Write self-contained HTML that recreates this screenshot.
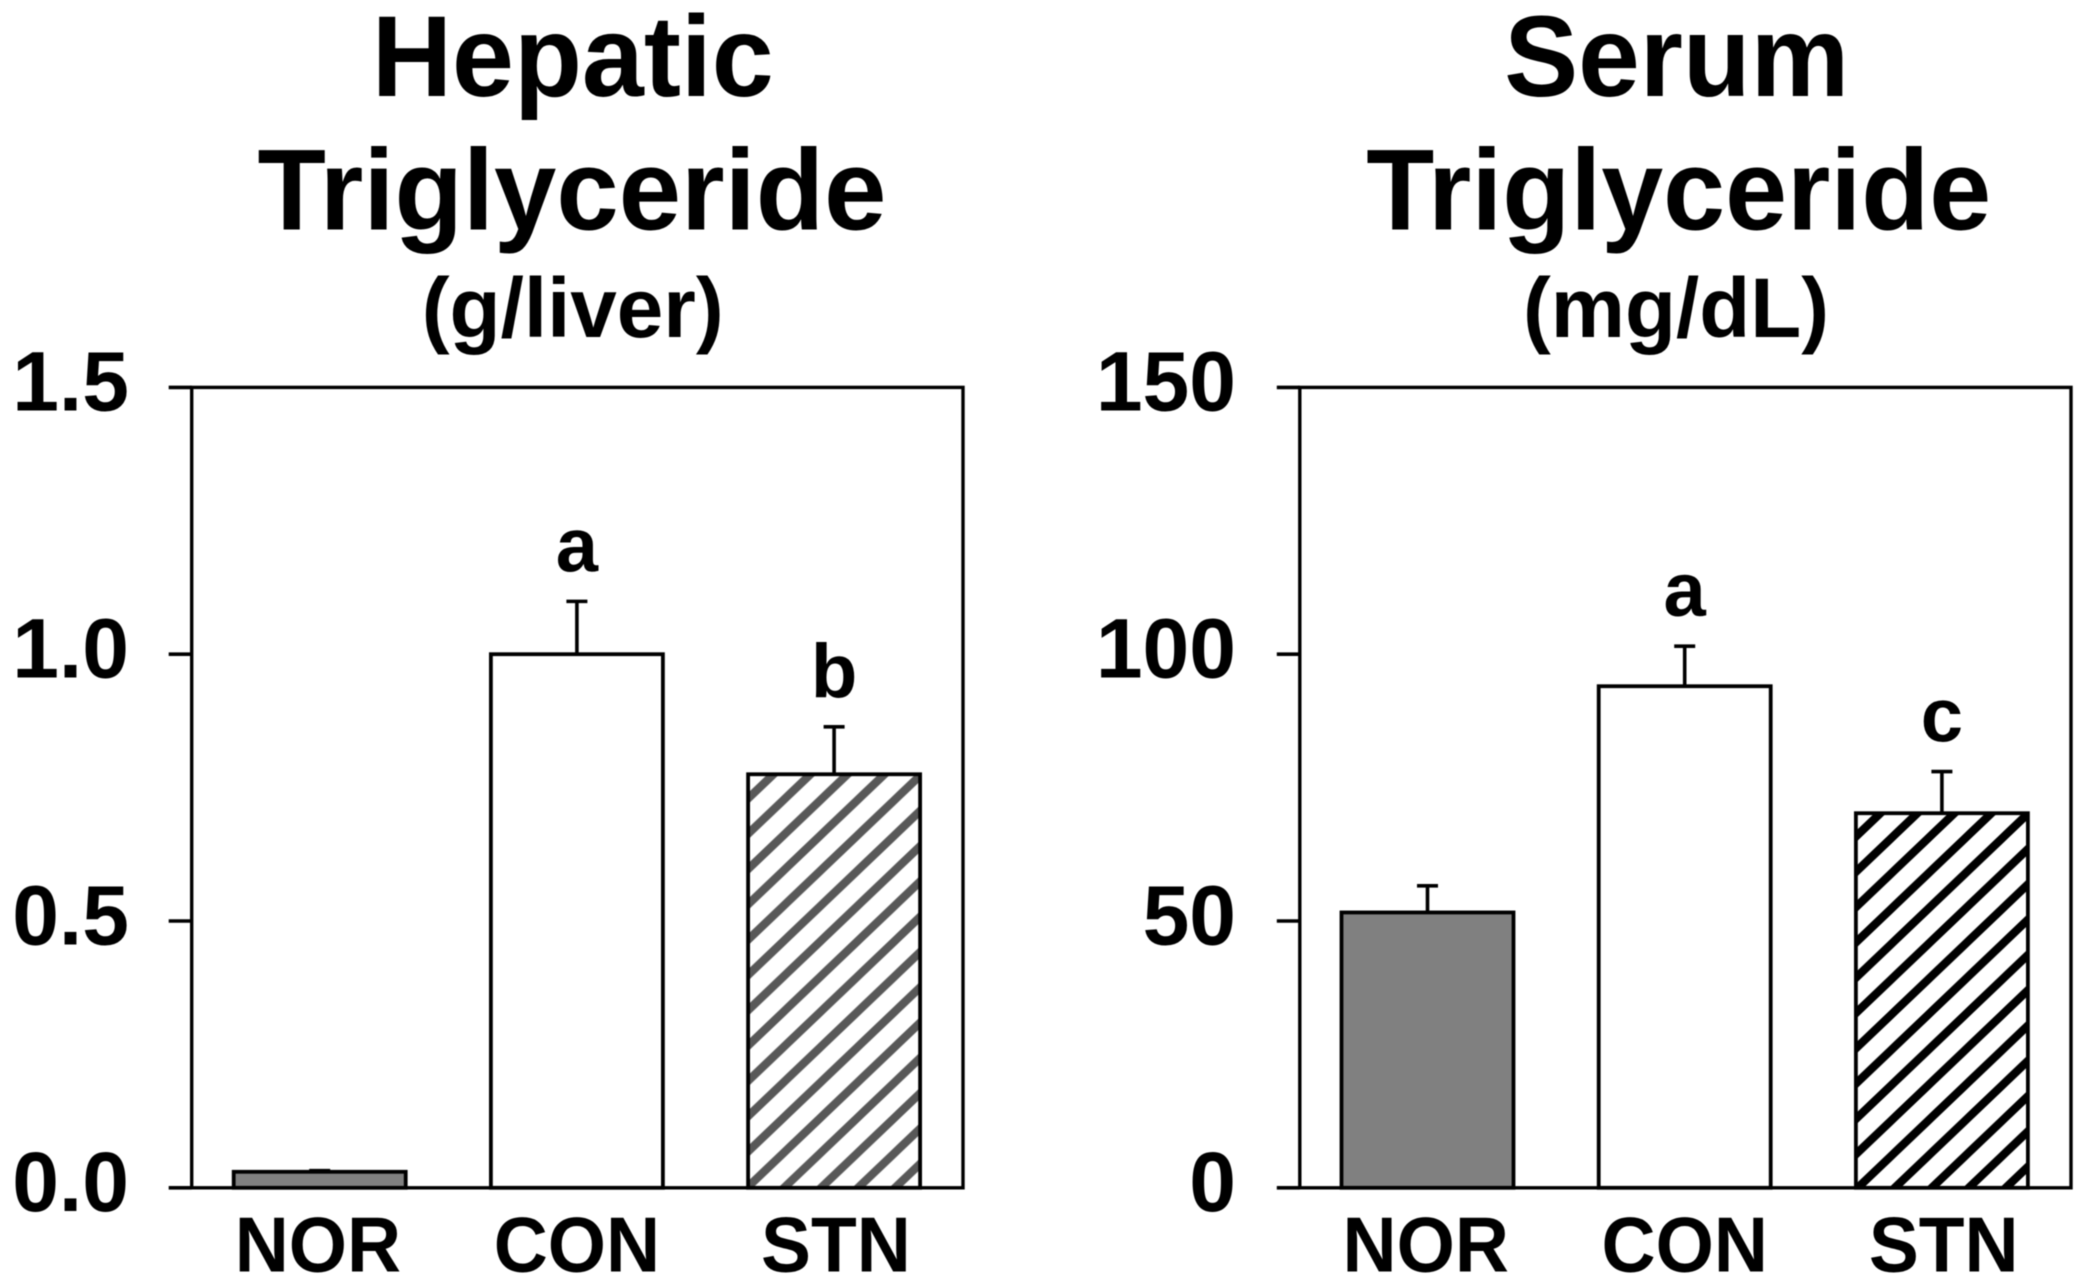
<!DOCTYPE html>
<html lang="en">
<head>
<meta charset="utf-8">
<title>Hepatic and Serum Triglyceride</title>
<style>
html,body{margin:0;padding:0;background:#fff;}
svg{display:block;filter:blur(0.6px);}
text{font-family:"Liberation Sans",Arial,sans-serif;font-weight:700;fill:#000;}
</style>
</head>
<body>
<svg id="figure" xmlns="http://www.w3.org/2000/svg" width="2084" height="1285" viewBox="0 0 2084 1285">
  <defs>
    <pattern id="hatch-gray" patternUnits="userSpaceOnUse" width="37" height="35.3" patternTransform="translate(748.3 798.3)">
      <rect width="37" height="35.3" fill="#fff"/>
      <path d="M-37 35.3L37 -35.3M0 35.3L37 0M0 70.6L74 0" stroke="#585858" stroke-width="8.2" fill="none"/>
    </pattern>
    <pattern id="hatch-black" patternUnits="userSpaceOnUse" width="37" height="35.3" patternTransform="translate(1856 1048.3)">
      <rect width="37" height="35.3" fill="#fff"/>
      <path d="M-37 35.3L37 -35.3M0 35.3L37 0M0 70.6L74 0" stroke="#000" stroke-width="8.2" fill="none"/>
    </pattern>
  </defs>
  <rect width="2084" height="1285" fill="#fff"/>

  <g>
    <text x="572.7" y="96" font-size="115" text-anchor="middle" textLength="402" lengthAdjust="spacingAndGlyphs">Hepatic</text>
    <text x="572" y="229.5" font-size="115" text-anchor="middle" textLength="629" lengthAdjust="spacingAndGlyphs">Triglyceride</text>
    <text x="572.7" y="337" font-size="84" text-anchor="middle" textLength="302" lengthAdjust="spacingAndGlyphs">(g/liver)</text>
  </g>
  <g>
    <text x="1676.7" y="96" font-size="115" text-anchor="middle" textLength="345" lengthAdjust="spacingAndGlyphs">Serum</text>
    <text x="1678.7" y="229.5" font-size="115" text-anchor="middle" textLength="625" lengthAdjust="spacingAndGlyphs">Triglyceride</text>
    <text x="1676" y="337" font-size="84" text-anchor="middle" textLength="306" lengthAdjust="spacingAndGlyphs">(mg/dL)</text>
  </g>

  <g id="panel-hepatic"></g>
  <g id="panel-serum"></g>
</svg>

<script>
const categories = ['NOR', 'CON', 'STN'];

const hepaticValues = [0.03, 1.0, 0.775];
const hepaticErrors = [0.002, 0.099, 0.089];
const hepaticLetters = ['', 'a', 'b'];
const hepaticTicks = [0, 0.5, 1.0, 1.5];
const hepaticTickLabels = ['0.0', '0.5', '1.0', '1.5'];

const serumValues = [51.6, 94, 70.2];
const serumErrors = [5, 7.5, 7.8];
const serumLetters = ['', 'a', 'c'];
const serumTicks = [0, 50, 100, 150];
const serumTickLabels = ['0', '50', '100', '150'];

const NS = 'http://www.w3.org/2000/svg';
const PLOT_TOP = 387.4;
const PLOT_BOTTOM = 1187.8;

function make(parent, tag, attrs, content) {
  const el = document.createElementNS(NS, tag);
  for (const k in attrs) el.setAttribute(k, attrs[k]);
  if (content !== undefined) el.textContent = content;
  parent.appendChild(el);
  return el;
}

function drawPanel(cfg) {
  const root = document.getElementById(cfg.id);
  const yMax = cfg.ticks[cfg.ticks.length - 1];
  const yScale = v => PLOT_BOTTOM - (v / yMax) * (PLOT_BOTTOM - PLOT_TOP);
  const barWidth = 172;
  const barStep = 257.2;
  const xCenter = i => cfg.firstCenter + i * barStep;
  const labelNudge = i => (i - 1) * 1.8;

  cfg.values.forEach((v, i) => {
    const cx = xCenter(i);
    const errTop = yScale(v + cfg.errors[i]);

    const errLine = make(root, 'line', {x1: cx, x2: cx, y1: errTop, y2: yScale(v), stroke: '#000', 'stroke-width': 3.6});
    
    

    const errCap = make(root, 'line', {x1: cx - 10.5, x2: cx + 10.5, y1: errTop, y2: errTop, stroke: '#000', 'stroke-width': 3.6});
    
    

    const bar = make(root, 'rect', {
      x: cx - barWidth / 2, y: yScale(v), width: barWidth, height: PLOT_BOTTOM - yScale(v),
      fill: cfg.fills[i], stroke: '#000', 'stroke-width': 3.8
    });
    
    

    if (cfg.letters[i]) {
      const letter = make(root, 'text', {x: cx, y: errTop - 30, 'font-size': 76, 'text-anchor': 'middle'}, cfg.letters[i]);
      
      
    }

    const label = make(root, 'text', {
      'font-size': 78, 'text-anchor': 'middle',
      transform: 'translate(' + (cx + labelNudge(i)) + ' 1271.5) scale(0.96 1)'
    }, categories[i]);
    
    
  });

  const frame = make(root, 'rect', {
    x: cfg.left, y: PLOT_TOP, width: cfg.right - cfg.left, height: PLOT_BOTTOM - PLOT_TOP,
    fill: 'none', stroke: '#000', 'stroke-width': 3.4
  });
  
  

  cfg.ticks.forEach((t, i) => {
    const y = yScale(t);
    const tick = make(root, 'line', {x1: cfg.left - 23, x2: cfg.left, y1: y, y2: y, stroke: '#000', 'stroke-width': 3.6});
    
    

    const tl = make(root, 'text', {x: cfg.labelRight, y: y + 23.3, 'font-size': 84, 'text-anchor': 'end'}, cfg.tickLabels[i]);
    
    
  });
}

drawPanel({
  id: 'panel-hepatic', left: 191.7, right: 963, firstCenter: 319.7, labelRight: 129,
  values: hepaticValues, errors: hepaticErrors, letters: hepaticLetters,
  ticks: hepaticTicks, tickLabels: hepaticTickLabels,
  fills: ['#808080', '#fff', 'url(#hatch-gray)']
});
drawPanel({
  id: 'panel-serum', left: 1299.8, right: 2071, firstCenter: 1427.5, labelRight: 1236,
  values: serumValues, errors: serumErrors, letters: serumLetters,
  ticks: serumTicks, tickLabels: serumTickLabels,
  fills: ['#808080', '#fff', 'url(#hatch-black)']
});
</script>
</body>
</html>
